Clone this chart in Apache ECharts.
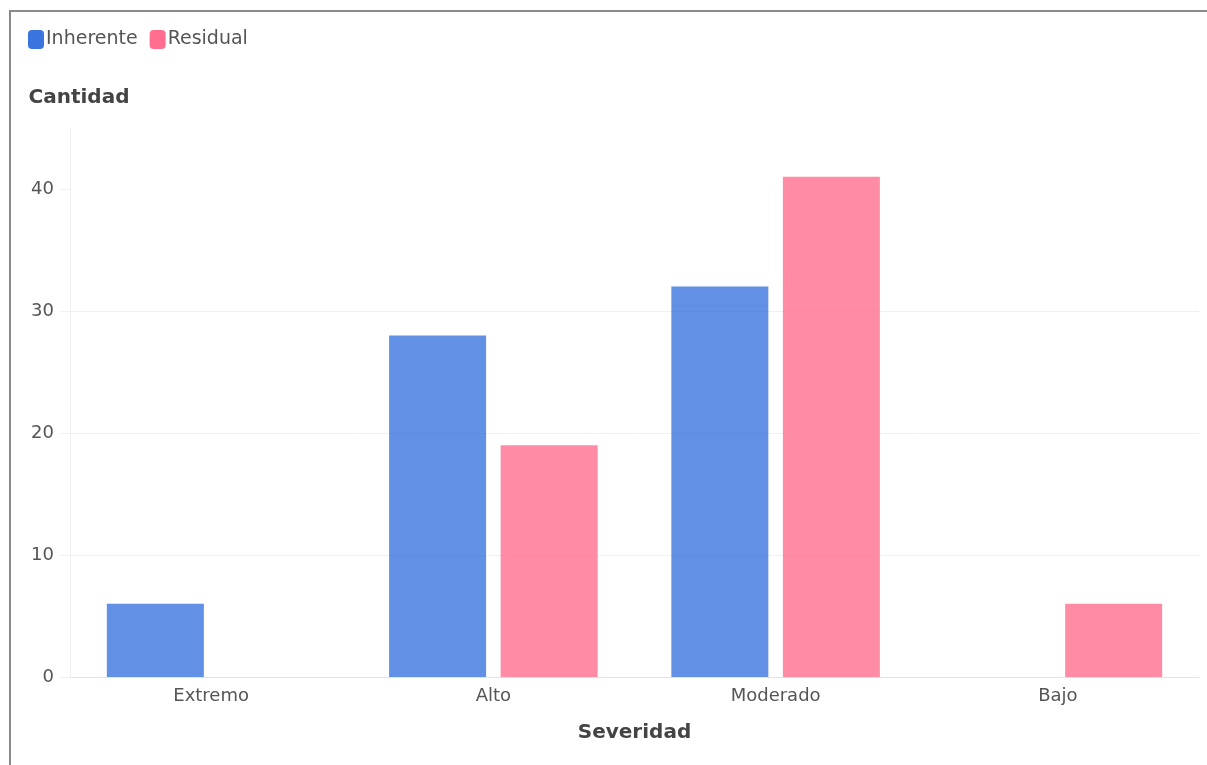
<!DOCTYPE html>
<html>
<head>
<meta charset="utf-8">
<script src="https://cdn.jsdelivr.net/npm/echarts@6/dist/echarts.min.js"></script>
<style>
    html, body { margin: 0; padding: 0; background: #fff; overflow: hidden; }
    #main { position: absolute; left: 0; top: 0; width: 1207px; height: 765px; }
    #frame { position: absolute; left: 9px; top: 10px; width: 1400px; height: 900px;
             border-top: 2px solid #8a8a8a; border-left: 2px solid #8a8a8a; pointer-events: none; }
</style>
</head>
<body>
<div id="main"></div>
<div id="frame"></div>
<script>
    // categorias y valores
    var categories = ['Extremo', 'Alto', 'Moderado', 'Bajo'];
    var inherente = [6, 28, 32, 0];
    var residual = [0, 19, 41, 6];
    var yTicks = [0, 10, 20, 30, 40];

    var fontFam = '"DejaVu Sans", "Noto Sans", sans-serif';
    var chart = echarts.init(document.getElementById('main'));

    chart.setOption({
        animation: false,
        textStyle: { fontFamily: fontFam },
        legend: {
            left: 23,
            top: 25,
            icon: 'roundRect',
            itemWidth: 16,
            itemHeight: 19,
            itemGap: 12,
            itemStyle: { opacity: 1 },
            textStyle: { fontSize: 19, color: '#555', fontFamily: fontFam, padding: [0, 0, 0, -3] },
            data: ['Inherente', 'Residual']
        },
        grid: { left: 70, right: 8, top: 128, bottom: 88, containLabel: false },
        xAxis: {
            type: 'category',
            data: categories,
            name: 'Severidad',
            nameLocation: 'middle',
            nameGap: 46,
            nameTextStyle: { fontSize: 20, fontWeight: 'bold', color: '#444', fontFamily: fontFam },
            axisLine: { lineStyle: { color: '#e3e3e3' } },
            axisTick: { alignWithLabel: true, length: 6, lineStyle: { color: '#e3e3e3' } },
            axisLabel: { fontSize: 18, color: '#555', margin: 10, fontFamily: fontFam }
        },
        yAxis: {
            type: 'value',
            min: 0,
            max: 45,
            interval: 10,
            name: 'Cantidad',
            nameLocation: 'end',
            nameGap: 20,
            nameTextStyle: { fontSize: 20, fontWeight: 'bold', color: '#444', align: 'center', padding: [0, 0, 0, 18], fontFamily: fontFam },
            axisLine: { show: true, lineStyle: { color: '#f0f0f0' } },
            axisTick: { show: true, length: 10, customValues: yTicks, lineStyle: { color: '#f0f0f0' } },
            splitLine: { showMaxLine: false, lineStyle: { color: '#f0f0f0' } },
            axisLabel: {
                fontSize: 18, color: '#555', margin: 16, fontFamily: fontFam,
                customValues: yTicks
            }
        },
        series: [
            {
                name: 'Inherente',
                type: 'bar',
                data: inherente,
                barWidth: 97,
                barGap: '15%',
                itemStyle: { color: '#3a74de', opacity: 0.8 }
            },
            {
                name: 'Residual',
                type: 'bar',
                data: residual,
                barWidth: 97,
                itemStyle: { color: '#ff6e8f', opacity: 0.8 }
            }
        ]
    });
</script>
</body>
</html>
